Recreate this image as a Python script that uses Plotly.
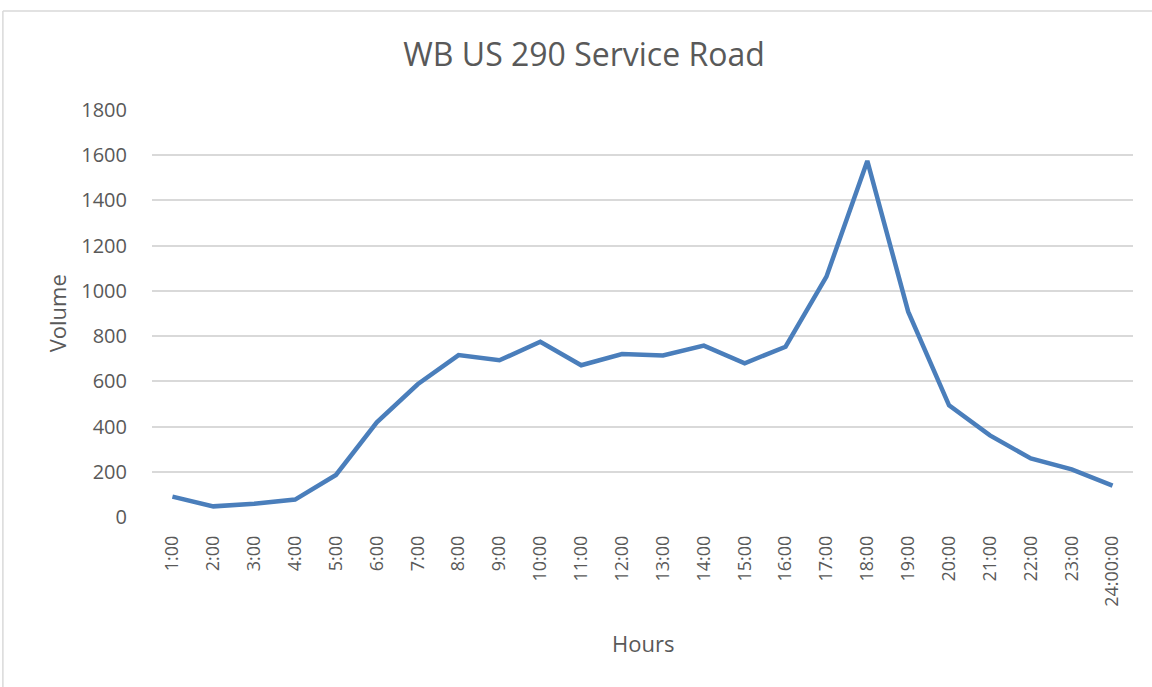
import plotly.graph_objects as go

hours = ["1:00", "2:00", "3:00", "4:00", "5:00", "6:00", "7:00", "8:00", "9:00", "10:00",
         "11:00", "12:00", "13:00", "14:00", "15:00", "16:00", "17:00", "18:00", "19:00",
         "20:00", "21:00", "22:00", "23:00", "24:00:00"]
volume = [90, 47, 59, 77, 186, 419, 587, 716, 693, 775, 671, 721, 714, 758, 680, 753,
          1063, 1575, 908, 494, 361, 259, 211, 139]
y_ticks = [0, 200, 400, 600, 800, 1000, 1200, 1400, 1600, 1800]

fig = go.Figure()
fig.add_trace(go.Scatter(x=hours, y=volume, mode="lines",
                         line=dict(color="#4A7EBB", width=4.5), showlegend=False))

font_fam = "Open Sans, Liberation Sans, sans-serif"
grey = "#595959"
fig.update_layout(
    width=1152, height=687,
    margin=dict(l=152, r=19, t=110, b=170),
    paper_bgcolor="white", plot_bgcolor="white",
    title=dict(text="WB US 290 Service Road", x=0.507, xanchor="center",
               y=0.92, yanchor="middle",
               font=dict(family=font_fam, size=32, color=grey)),
    font=dict(family=font_fam, color=grey),
    xaxis=dict(type="category", range=[-0.5, len(hours) - 0.5], tickangle=-90,
               tickfont=dict(size=18, color=grey), ticklabelstandoff=14,
               showgrid=False, zeroline=False, showline=False, ticks=""),
    yaxis=dict(range=[0, 1800], tickvals=y_ticks, ticktext=[str(v) for v in y_ticks],
               showgrid=True, gridcolor="#D9D9D9", gridwidth=1.5, zeroline=False,
               showline=False, ticks="", tickfont=dict(size=20, color=grey),
               ticklabelstandoff=24),
    annotations=[
        dict(text="Hours", xref="paper", yref="paper", x=0.5, y=-0.31,
             xanchor="center", yanchor="middle", showarrow=False,
             font=dict(size=22, color=grey, family=font_fam)),
        dict(text="Volume", xref="paper", yref="paper", x=-0.097, y=0.5,
             xanchor="center", yanchor="middle", showarrow=False, textangle=-90,
             font=dict(size=22, color=grey, family=font_fam)),
    ],
)
# chart border
fig.add_shape(type="line", xref="paper", yref="paper", x0=-0.152, x1=1.05, y0=1.243, y1=1.243,
              line=dict(color="#D9D9D9", width=1.5))
fig.add_shape(type="line", xref="paper", yref="paper", x0=-0.152, x1=-0.152, y0=-0.5, y1=1.243,
              line=dict(color="#D9D9D9", width=1.5))

fig.write_html("out.html", config={"displayModeBar": False},
               post_script="document.body.style.margin='0';")
